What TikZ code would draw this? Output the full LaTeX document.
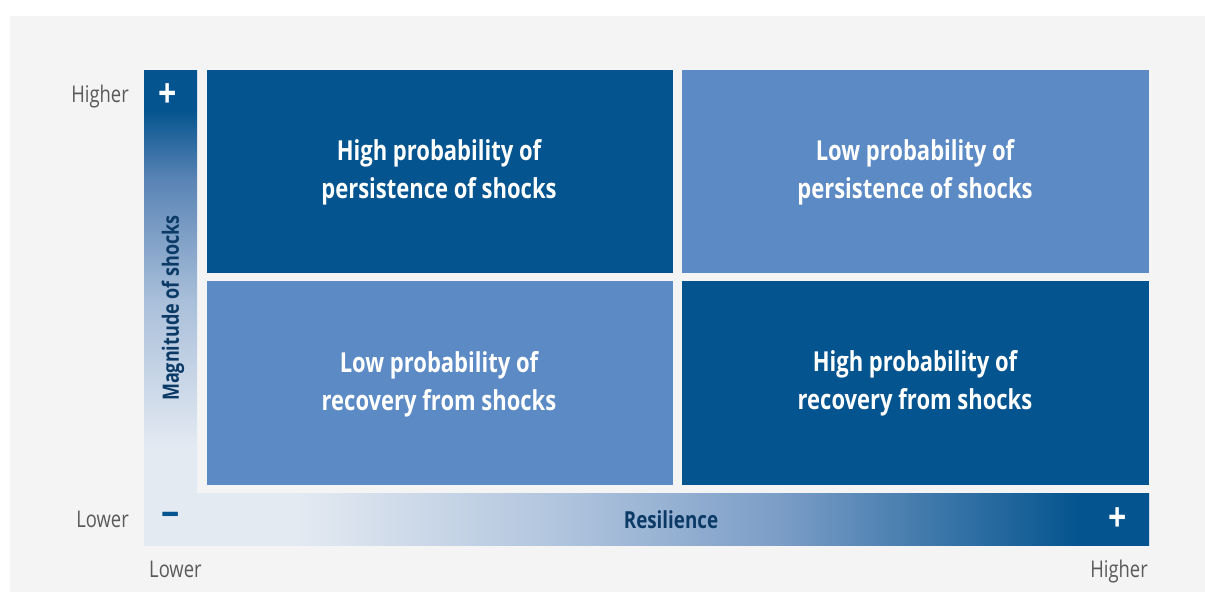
\documentclass[tikz,border=0pt]{standalone}
\usepackage{fontspec}
\setmainfont{Open Sans}[FakeStretch=0.8]
\definecolor{dkblue}{HTML}{04548F}
\definecolor{ltblue}{HTML}{5B8AC5}
\definecolor{pale}{HTML}{E4EAF2}
\definecolor{navy}{HTML}{0B3A66}
\definecolor{graytxt}{HTML}{5A5A5A}
\definecolor{bg}{HTML}{F4F4F4}
\definecolor{hmidA}{HTML}{B1C5DE}
\definecolor{hmidB}{HTML}{7C9EC7}
\definecolor{vmidA}{HTML}{A9BFDA}
\definecolor{vmidB}{HTML}{5A84B5}
\pgfdeclarehorizontalshading{hres}{100bp}{color(0bp)=(pale); color(32.5bp)=(pale); color(45.5bp)=(hmidA); color(56.5bp)=(hmidB); color(71.5bp)=(dkblue); color(100bp)=(dkblue)}
\pgfdeclareverticalshading{vmag}{100bp}{color(0bp)=(pale); color(30bp)=(pale); color(47.7bp)=(vmidA); color(62bp)=(vmidB); color(70.3bp)=(dkblue); color(100bp)=(dkblue)}
\tikzset{
  qtext/.style={text=white, align=center, font=\bfseries\fontsize{27.5}{38}\selectfont},
  lbl/.style={text=graytxt, font=\fontsize{23}{28}\selectfont, inner sep=0pt},
  sign/.style={font=\bfseries\fontsize{40}{40}\selectfont, inner sep=0pt},
}
\begin{document}
\begin{tikzpicture}[x=1pt,y=-1pt]
\useasboundingbox (0,0) rectangle (1205,592);
\fill[bg] (10,16) rectangle (1205,592);
% gradient bars
\path[shading=vmag] (144,70) rectangle (197,492);
\path[shading=hres] (144,493) rectangle (1149,545);
% quadrants
\fill[dkblue] (207,70) rectangle (673,273);
\fill[ltblue] (682,70) rectangle (1149,273);
\fill[ltblue] (207,281) rectangle (673,485);
\fill[dkblue] (682,281) rectangle (1149,485);
\node[qtext] (tl) at (439,172) {High probability of\\persistence of shocks};
\node[qtext] (tr) at (915,172) {Low probability of\\persistence of shocks};
\node[qtext] (bl) at (439,384) {Low probability of\\recovery from shocks};
\node[qtext] (br) at (915,383) {High probability of\\recovery from shocks};
% axis labels
\node[lbl, anchor=base east] (yhi) at (129,102) {Higher};
\node[lbl, anchor=base east] (ylo) at (129,527) {Lower};
\node[lbl, anchor=base west] (xlo) at (149,577) {Lower};
\node[lbl, anchor=base east] (xhi) at (1148,577) {Higher};
\node[sign, text=white] (vplus) at (168,96) {+};
\node[sign, text=dkblue] (hminus) at (171,520) {−};
\node[sign, text=white] (hplus) at (1118,520) {+};
\node[text=navy, font=\bfseries\fontsize{23.5}{30}\selectfont, anchor=base, inner sep=0pt] (res) at (671,528) {Resilience};
\node[text=navy, font=\bfseries\fontsize{22.5}{30}\selectfont, rotate=90, inner sep=0pt] (mag) at (173,308) {Magnitude of shocks};
\end{tikzpicture}
\end{document}
